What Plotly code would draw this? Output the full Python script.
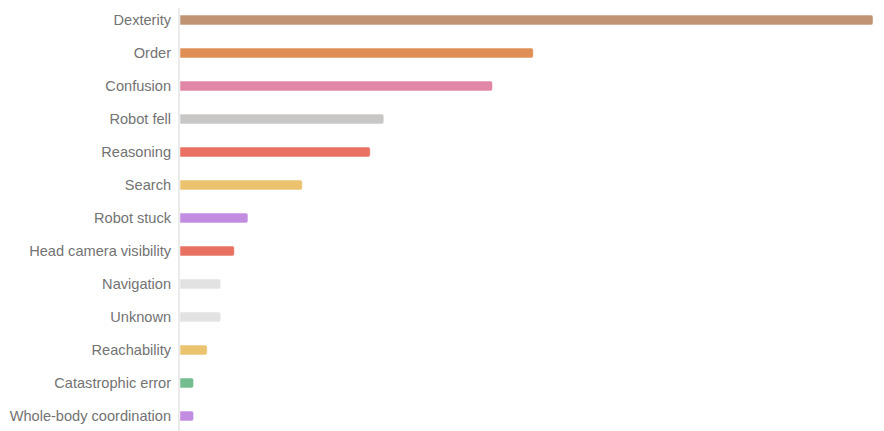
import plotly.graph_objects as go

# 失败类型与次数（自上而下）
categories = ["Dexterity", "Order", "Confusion", "Robot fell", "Reasoning", "Search",
              "Robot stuck", "Head camera visibility", "Navigation", "Unknown",
              "Reachability", "Catastrophic error", "Whole-body coordination"]
counts = [51, 26, 23, 15, 14, 9, 5, 4, 3, 3, 2, 1, 1]
colors = ["#c09373", "#df8f55", "#e286a8", "#c8c7c5", "#e87162", "#ebc36f",
          "#c28ce0", "#e87162", "#e2e2e2", "#e2e2e2", "#ebc36f", "#74bd8f", "#c28ce0"]

fig = go.Figure(go.Bar(
    x=counts, y=categories, orientation="h", width=0.3,
    marker=dict(color=colors, line=dict(color="white", width=0.5), cornerradius=2),
))
fig.update_layout(
    width=876, height=423,
    paper_bgcolor="white", plot_bgcolor="white",
    margin=dict(l=172, r=11, t=0, b=0),
    font=dict(family="Liberation Sans, Arial, sans-serif", size=14.6, color="#737373"),
    showlegend=False,
    xaxis=dict(visible=False, range=[0, 51]),
    yaxis=dict(range=[12.455, -0.364], showgrid=False, showline=True, linecolor="#ebebeb",
               linewidth=2, ticks="", ticklabelstandoff=4, automargin=False),
)
fig.write_html("out.html")
